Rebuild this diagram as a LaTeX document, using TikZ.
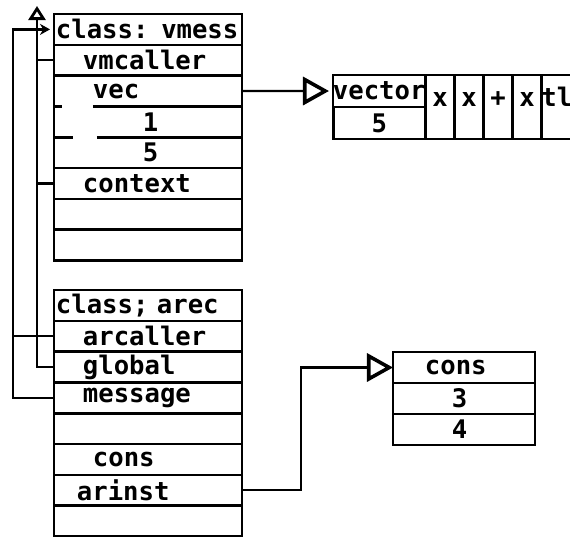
\documentclass[tikz,border=0pt]{standalone}
\usepackage{fontspec}
\newfontfamily\prfont{DejaVu Sans Mono}
\newcommand{\prt}{\prfont\bfseries\fontsize{12.8pt}{14pt}\selectfont}
\usetikzlibrary{arrows.meta, positioning}

\begin{document}
\begin{tikzpicture}[
    x=0.5pt, y=-0.5pt,
    cell/.style={draw, line width=1.3pt, minimum width=94pt, minimum height=15.4pt,
                 text width=94pt, align=left, inner xsep=0pt, inner ysep=0pt,
                 outer sep=0pt, font=\prt},
    bare/.style={cell, draw=none},
    vhead/.style={draw, line width=1.3pt, minimum width=46pt, minimum height=16pt,
                  inner sep=0pt, outer sep=0pt, font=\prt},
    vcell/.style={vhead, minimum width=14.5pt, minimum height=32pt,
                  text height=7pt, text depth=8pt},
    cbox/.style={vhead, minimum width=71pt, minimum height=15.5pt,
                 text width=71pt, align=left},
    rule/.style={line width=1.3pt},
    link/.style={line width=1.2pt},
    tip/.style={link, -{Triangle[open, length=13pt, width=14pt, line width=1.8pt]}},
    uptip/.style={link, -{Triangle[open, length=7pt, width=8.5pt, line width=1.4pt]}},
    smalltip/.style={link, -{Stealth[length=5pt, width=5.5pt]}, shorten >=2pt}]

    \useasboundingbox (0,0) rectangle (570,537);

    % vmess record
    \node[cell, anchor=north west] (vmess) at (54,14) {\hspace*{1pt}class: vmess};
    \node[cell, below=0pt of vmess]    (vmcaller) {\hspace*{14.5pt}vmcaller};
    \node[bare, below=0pt of vmcaller] (vec)      {\hspace*{19.5pt}vec};
    \node[bare, below=0pt of vec]      (one)      {\hspace*{44.5pt}1};
    \node[bare, below=0pt of one]      (five)     {\hspace*{44.5pt}5};
    \node[cell, below=0pt of five]     (context)  {\hspace*{14.5pt}context};
    \node[cell, below=0pt of context]  (vfree)    {};
    \node[cell, below=0pt of vfree]    (vlast)    {};

    % sides and broken rules of the vec / 1 / 5 rows
    \draw[rule] (vec.north west) -- (five.south west) (vec.north east) -- (five.south east);
    \draw[rule] (vec.south west) -- ++(8,0) ([xshift=19.5pt]vec.south west) -- (vec.south east);
    \draw[rule] (one.south west) -- ++(19,0) ([xshift=21.5pt]one.south west) -- (one.south east);

    % arec record
    \node[cell, anchor=north west] (arec) at (54,290) {\hspace*{1pt}class; arec};
    \node[cell, below=0pt of arec]     (arcaller) {\hspace*{14.5pt}arcaller};
    \node[cell, below=0pt of arcaller] (global)   {\hspace*{14.5pt}global};
    \node[cell, below=0pt of global]   (message)  {\hspace*{14.5pt}message};
    \node[cell, below=0pt of message]  (afree)    {};
    \node[cell, below=0pt of afree]    (acons)    {\hspace*{19.5pt}cons};
    \node[cell, below=0pt of acons]    (arinst)   {\hspace*{11.5pt}arinst};
    \node[cell, below=0pt of arinst]   (alast)    {};

    % vector
    \node[vhead, anchor=north west] (vector) at (333,75) {vector};
    \node[vhead, below=0pt of vector] (vlen) {5};
    \node[vcell, anchor=north west] (e1) at (vector.north east) {x};
    \node[vcell, right=0pt of e1] (e2) {x};
    \node[vcell, right=0pt of e2] (e3) {+};
    \node[vcell, right=0pt of e3] (e4) {x};
    \node[vcell, draw=none, right=0pt of e4] (e5) {tl};
    \draw[rule] (e5.north west) -- (e5.north east) (e5.south west) -- (e5.south east);

    % cons cell
    \node[cbox, anchor=north west] (cons) at (393,352) {\hspace*{16pt}cons};
    \node[cbox, below=0pt of cons] (car) {\hspace*{29.5pt}3};
    \node[cbox, below=0pt of car]  (cdr) {\hspace*{29.5pt}4};

    \coordinate (outer) at (13,0);
    \coordinate (innertop) at (37,6);

    % callers and message point back at vmess
    \draw[smalltip] (message.west) -- (message.west -| outer) |- (vmess.west);
    \draw[link] (arcaller.west) -- (arcaller.west -| outer);

    % shared up-link
    \draw[uptip] (global.west) -| (innertop);
    \draw[link] (vmcaller.west) -- (vmcaller.west -| innertop);
    \draw[link] (context.west) -- (context.west -| innertop);

    % pointers out
    \draw[tip, shorten >=2pt] (vec.east) -- (vector.west);
    \draw[tip] (arinst.east) -- ++(59,0) |- (cons.west);
\end{tikzpicture}
\end{document}
